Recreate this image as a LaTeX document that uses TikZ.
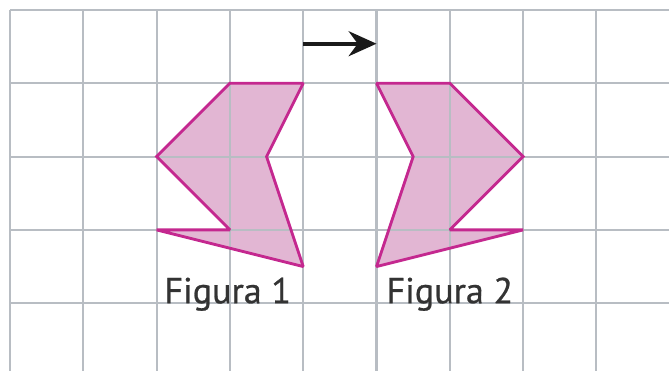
\documentclass[tikz,border=0pt]{standalone}
\usepackage{fontspec}
\setmainfont{PT Sans}
\newfontfamily\labelfont{PT Sans}[FakeBold=0.7]
\usetikzlibrary{arrows.meta}
\definecolor{gridline}{HTML}{B8BDC3}
\definecolor{figfill}{HTML}{E2B6D3}
\definecolor{figedge}{HTML}{C4288F}
\definecolor{ink}{HTML}{1A1A1A}
\definecolor{labelink}{HTML}{333333}
\tikzset{
  gridlines/.style={draw=gridline,line width=0.8pt},
  shapefill/.style={fill=figfill,draw=none},
  shapeedge/.style={draw=figedge,line width=1.1pt,line join=miter,miter limit=1.5},
  movearrow/.style={-{Stealth[length=3.8mm,width=3.4mm]},line width=1.6pt,draw=ink},
  figlabel/.style={font=\labelfont\fontsize{14}{16}\selectfont,text=labelink,inner sep=0pt,anchor=base}
}
\def\figone{(3,-1) -- (4,-1) -- (3.5,-2) -- (4,-3.5) -- (2,-3) -- (3,-3) -- (2,-2) -- cycle}
\def\figtwo{(6,-1) -- (5,-1) -- (5.5,-2) -- (5,-3.5) -- (7,-3) -- (6,-3) -- (7,-2) -- cycle}

\begin{document}
\begin{tikzpicture}
  \useasboundingbox (-0.1364,0.1364) rectangle (8.990,-4.925);
  % fills under the grid
  \path[shapefill] \figone;
  \path[shapefill] \figtwo;
  % squared paper
  \foreach \x in {0,...,9}
    \draw[gridlines] (\x,0) -- (\x,-4.925);
  \foreach \y in {0,...,4}
    \draw[gridlines] (0,-\y) -- (9,-\y);
  % outlines
  \draw[shapeedge] \figone;
  \draw[shapeedge] \figtwo;
  % translation arrow
  \coordinate (from) at (4,-0.46);
  \coordinate (to) at (5,-0.46);
  \draw[movearrow] (from) -- (to);
  % labels
  \node[figlabel] (fig1) at (2.97,-4) {Figura 1};
  \node[figlabel] (fig2) at (6.0,-4) {Figura 2};
\end{tikzpicture}
\end{document}
